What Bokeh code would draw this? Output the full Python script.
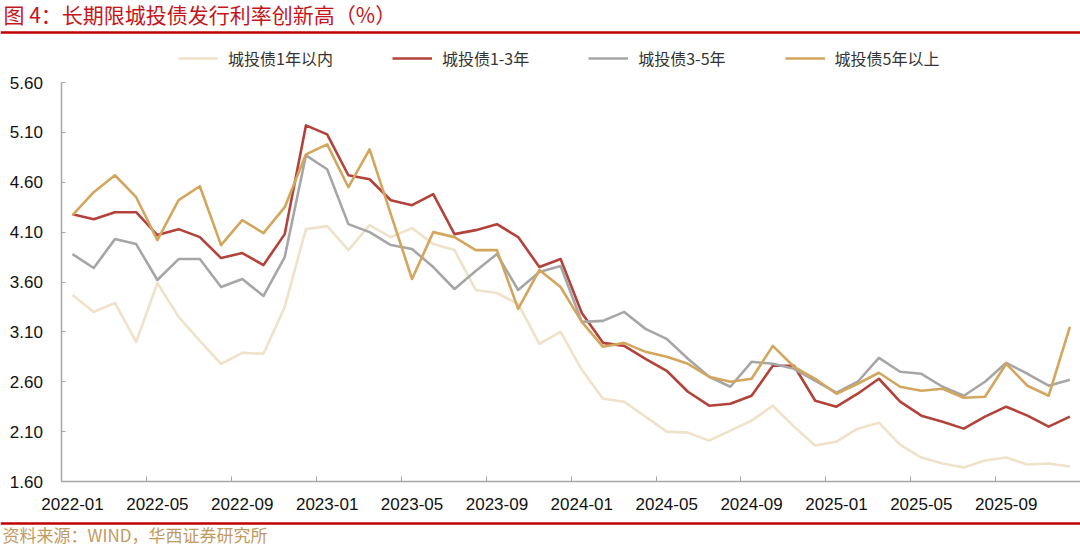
import pandas as pd

from bokeh.plotting import figure
from bokeh.models import (ColumnDataSource, Range1d, FixedTicker, Legend, LegendItem,
                          Label, Span, NumeralTickFormatter)
from bokeh.embed import file_html
from bokeh.resources import INLINE

# Monthly observations, 2022-01 .. 2025-12
months = [m.strftime('%Y-%m') for m in pd.period_range('2022-01', '2025-12', freq='M')]
tick_labels = months[::4]
y_ticks = [1.60, 2.10, 2.60, 3.10, 3.60, 4.10, 4.60, 5.10, 5.60]

rate_1y = [3.47, 3.30, 3.39, 3.00, 3.59, 3.25, 3.01, 2.78, 2.89, 2.88, 3.35, 4.13,
           4.16, 3.92, 4.17, 4.05, 4.14, 3.98, 3.92, 3.52, 3.49, 3.38, 2.98, 3.10,
           2.72, 2.43, 2.40, 2.25, 2.10, 2.09, 2.01, 2.11, 2.21, 2.36, 2.15, 1.96,
           2.00, 2.13, 2.19, 1.97, 1.84, 1.78, 1.74, 1.81, 1.84, 1.77, 1.78, 1.75]
rate_1_3y = [4.28, 4.23, 4.30, 4.30, 4.07, 4.13, 4.05, 3.84, 3.89, 3.77, 4.08, 5.17,
             5.08, 4.67, 4.63, 4.42, 4.37, 4.48, 4.08, 4.12, 4.18, 4.05, 3.75, 3.83,
             3.29, 2.99, 2.96, 2.83, 2.71, 2.50, 2.36, 2.38, 2.46, 2.76, 2.76, 2.41,
             2.35, 2.48, 2.63, 2.40, 2.26, 2.20, 2.13, 2.25, 2.35, 2.26, 2.15, 2.25]
rate_3_5y = [3.88, 3.74, 4.03, 3.98, 3.62, 3.83, 3.83, 3.55, 3.63, 3.46, 3.85, 4.87,
             4.73, 4.18, 4.10, 3.97, 3.93, 3.75, 3.53, 3.71, 3.88, 3.52, 3.70, 3.76,
             3.20, 3.21, 3.30, 3.13, 3.03, 2.83, 2.65, 2.55, 2.80, 2.78, 2.73, 2.61,
             2.49, 2.60, 2.84, 2.70, 2.68, 2.55, 2.46, 2.60, 2.79, 2.68, 2.56, 2.62]
rate_5y = [4.27, 4.50, 4.67, 4.45, 4.02, 4.42, 4.56, 3.97, 4.22, 4.09, 4.35, 4.88,
           4.98, 4.55, 4.93, 4.28, 3.63, 4.10, 4.05, 3.92, 3.92, 3.33, 3.72, 3.55,
           3.20, 2.95, 2.99, 2.90, 2.85, 2.78, 2.65, 2.60, 2.63, 2.96, 2.75, 2.63,
           2.48, 2.58, 2.69, 2.55, 2.51, 2.53, 2.44, 2.45, 2.78, 2.56, 2.46, 3.15]

series = [
    ('城投债1年以内', 'r1', rate_1y, '#F0E1C9'),
    ('城投债1-3年', 'r2', rate_1_3y, '#B3423A'),
    ('城投债3-5年', 'r3', rate_3_5y, '#A6A6A6'),
    ('城投债5年以上', 'r4', rate_5y, '#D3A65E'),
]

CJK = 'Noto Sans CJK SC'
LATIN = 'Liberation Sans'
AXIS_GREY = '#A6A6A6'
RULE_RED = '#C00000'

# canvas and plot-area geometry (pixels)
W, H = 1080, 546
AX_LEFT, AX_RIGHT = 61.4, 1080.0
AX_TOP, AX_BOTTOM = 82.0, 481.0

# the frame covers the whole canvas; axes are pinned to the data box
x_lo, x_hi = -0.5, len(months) - 0.5
y_lo, y_hi = y_ticks[0], y_ticks[-1]
px_x = (AX_RIGHT - AX_LEFT) / (x_hi - x_lo)
px_y = (AX_BOTTOM - AX_TOP) / (y_hi - y_lo)
x_range = Range1d(x_lo - AX_LEFT / px_x, x_hi + (W - AX_RIGHT) / px_x)
y_range = Range1d(y_lo - (H - AX_BOTTOM) / px_y, y_hi + AX_TOP / px_y)

p = figure(width=W, height=H,
           output_backend='svg',
           toolbar_location=None,
           x_range=x_range, y_range=y_range,
           min_border=0)
p.outline_line_color = None
p.xgrid.visible = False
p.ygrid.visible = False

data = dict(x=list(range(len(months))), month=months)
for name, col, vals, color in series:
    data[col] = vals
source = ColumnDataSource(data=data)

items = []
for name, col, vals, color in series:
    r = p.line(x='x', y=col, source=source, line_color=color, line_width=2.6,
               line_join='round')
    items.append(LegendItem(label=name, renderers=[r]))

# x axis: labels on category centres, ticks between categories
label_pos = [months.index(t) for t in tick_labels]
p.xaxis.fixed_location = y_lo
p.xaxis.bounds = (x_lo, x_hi)
p.xaxis.ticker = FixedTicker(ticks=label_pos,
                             minor_ticks=[i - 0.5 for i in label_pos] + [x_hi])
p.xaxis.major_label_overrides = {i: months[i] for i in label_pos}
p.xaxis.major_tick_in = 0
p.xaxis.major_tick_out = 0
p.xaxis.minor_tick_in = 5
p.xaxis.minor_tick_out = 0
p.xaxis.minor_tick_line_color = AXIS_GREY
p.xaxis.axis_line_color = AXIS_GREY
p.xaxis.axis_line_width = 1.5
p.xaxis.major_label_standoff = 16
p.xaxis.major_label_text_font = LATIN
p.xaxis.major_label_text_font_size = '17px'
p.xaxis.major_label_text_color = '#111111'

p.yaxis.fixed_location = x_lo
p.yaxis.bounds = (y_lo, y_hi)
p.yaxis.ticker = FixedTicker(ticks=y_ticks)
p.yaxis.formatter = NumeralTickFormatter(format='0.00')
p.yaxis.major_tick_in = 4
p.yaxis.major_tick_out = 0
p.yaxis.minor_tick_line_color = None
p.yaxis.major_tick_line_color = AXIS_GREY
p.yaxis.axis_line_color = AXIS_GREY
p.yaxis.axis_line_width = 1.5
p.yaxis.major_label_standoff = 19
p.yaxis.major_label_text_font = LATIN
p.yaxis.major_label_text_font_size = '17px'
p.yaxis.major_label_text_color = '#111111'

legend = Legend(items=items, orientation='horizontal', location=(178, H - 70),
                spacing=59, glyph_width=40, glyph_height=20, label_standoff=10,
                padding=0, margin=0, border_line_alpha=0, background_fill_alpha=0,
                label_text_font=CJK, label_text_font_size='16px',
                label_text_color='#333333')
p.add_layout(legend, 'center')

# header: title + red rule (screen units measured from canvas bottom-left)
p.add_layout(Label(x=3, y=H - 13, x_units='screen', y_units='screen',
                   text='图 4：长期限城投债发行利率创新高（%）',
                   text_font=CJK, text_font_size='21px', text_color='#C4161C',
                   text_baseline='middle'))
p.add_layout(Span(location=H - 32, location_units='screen', dimension='width',
                  line_color=RULE_RED, line_width=2.5))

# footer: red rule + source
p.add_layout(Span(location=H - 523, location_units='screen', dimension='width',
                  line_color=RULE_RED, line_width=2.5))
p.add_layout(Label(x=2, y=H - 534, x_units='screen', y_units='screen',
                   text='资料来源：WIND，华西证券研究所',
                   text_font=CJK, text_font_size='17px', text_color='#BF9A62',
                   text_baseline='middle'))

open('out.html', 'w').write(file_html(p, INLINE))
